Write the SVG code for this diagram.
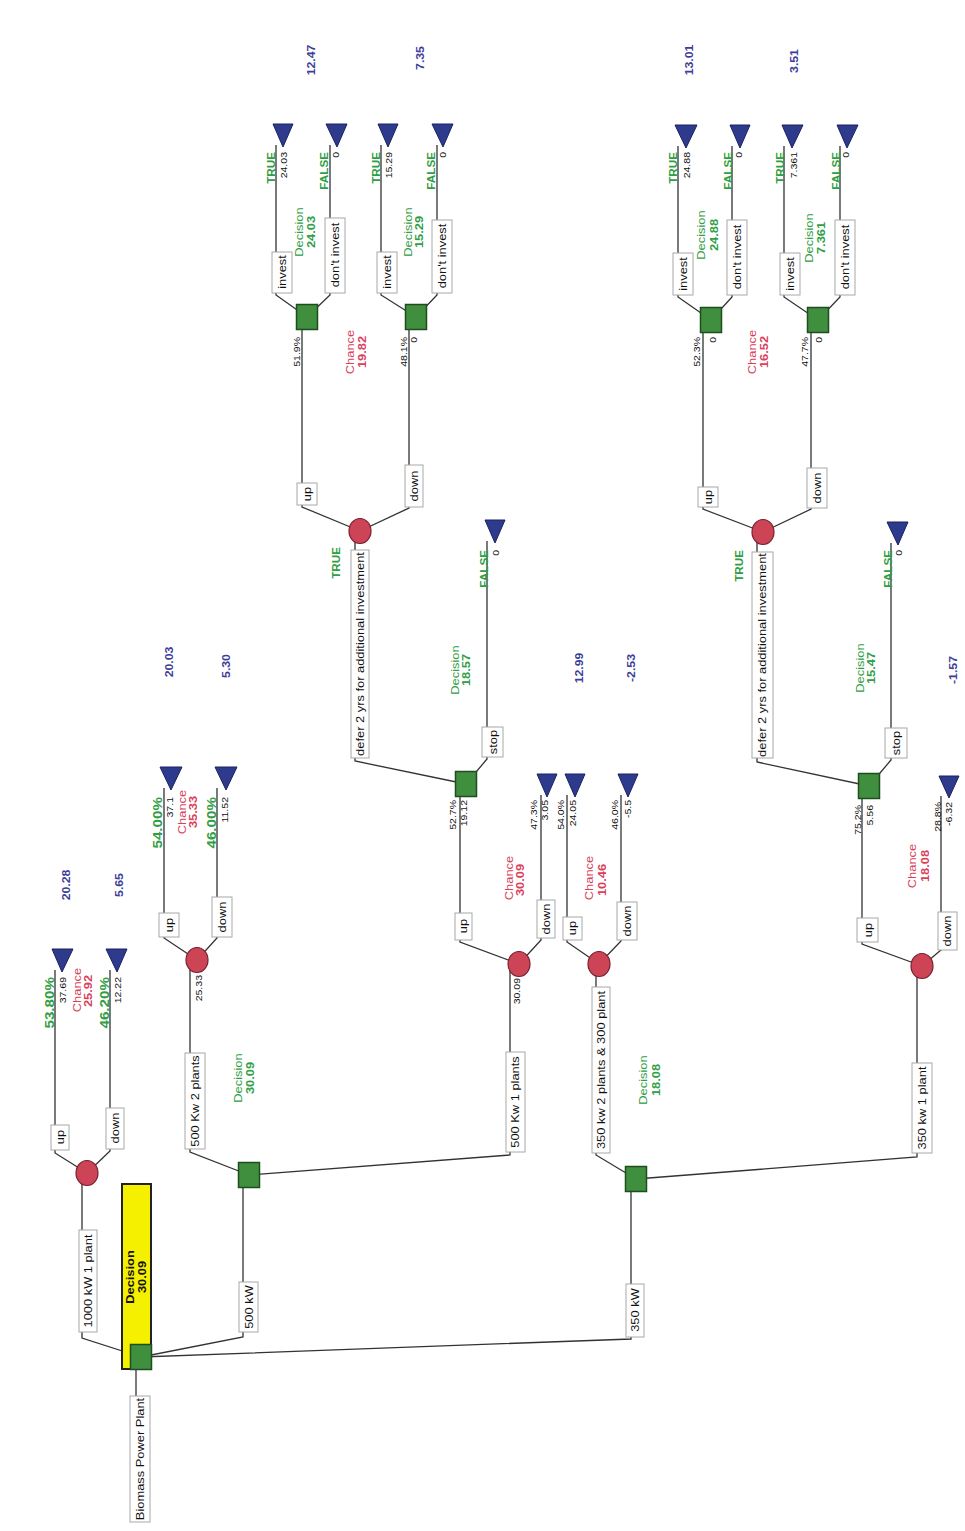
<svg xmlns="http://www.w3.org/2000/svg" width="965" height="1531" viewBox="0 0 965 1531">
<style>
  .ln{fill:none;stroke:#333;stroke-width:1.3}
  .bx{fill:#fff;stroke:#a8a8a8;stroke-width:1}
  .dn{fill:#3f8f3f;stroke:#1e4d1e;stroke-width:1.5}
  .cn{fill:#cc4455;stroke:#7a2030;stroke-width:1.2}
  .tn{fill:#2e3a8c;stroke:#1a2260;stroke-width:1}
  text{font-family:"Liberation Sans",Arial,sans-serif}
  .t{font-size:11px;fill:#111;text-anchor:middle}
  .v{font-size:9px;fill:#111;text-anchor:end}
  .p{font-size:13px;font-weight:bold;fill:#2f9e44;text-anchor:end}
  .tf{font-size:10px;font-weight:bold;fill:#2f9e44;text-anchor:end}
  .dl{font-size:11px;fill:#2f9e44;text-anchor:middle}
  .dv{font-size:11px;font-weight:bold;fill:#2f9e44;text-anchor:middle}
  .cl{font-size:11px;fill:#d9405a;text-anchor:middle}
  .cv{font-size:11px;font-weight:bold;fill:#d9405a;text-anchor:middle}
  .bv{font-size:10.5px;font-weight:bold;fill:#3d3d99;text-anchor:middle}
  .rl{font-size:11px;font-weight:bold;fill:#111;text-anchor:middle}
</style>
<rect width="965" height="1531" fill="#fff"/>

<!-- connectors -->
<g id="connectors" class="ln">
  <path d="M136,1369 L136,1396"/>
  <path d="M141,1357 L82,1338 L82,1173"/>
  <path d="M141,1357 L243,1337 L243,1175"/>
  <path d="M141,1357 L631,1339 L631,1179"/>
  <path d="M87,1173 L55,1153 L55,970"/>
  <path d="M87,1173 L110,1151 L110,970"/>
  <path d="M249,1175 L190,1152 L190,960"/>
  <path d="M249,1175 L510,1155 L510,964"/>
  <path d="M197,960 L164,938 L164,788"/>
  <path d="M197,960 L217,938 L217,788"/>
  <path d="M519,964 L460,942 L460,784"/>
  <path d="M519,964 L541,940 L541,795"/>
  <path d="M466,784 L355,761 L355,531"/>
  <path d="M466,784 L487,759 L487,541"/>
  <path d="M360,531 L302,507 L302,317"/>
  <path d="M360,531 L409,508 L409,317"/>
  <path d="M307,317 L276,295 L276,145"/>
  <path d="M307,317 L330,295 L330,145"/>
  <path d="M416,317 L381,295 L381,145"/>
  <path d="M416,317 L437,295 L437,145"/>
  <path d="M636,1179 L596,1155 L596,964"/>
  <path d="M636,1179 L917,1157 L917,966"/>
  <path d="M599,964 L567,942 L567,795"/>
  <path d="M599,964 L621,941 L621,795"/>
  <path d="M922,966 L862,944 L862,786"/>
  <path d="M922,966 L941,950 L941,796"/>
  <path d="M869,786 L757,762 L757,532"/>
  <path d="M869,786 L891,760 L891,543"/>
  <path d="M763,532 L703,509 L703,320"/>
  <path d="M763,532 L811,509 L811,320"/>
  <path d="M711,320 L678,297 L678,146"/>
  <path d="M711,320 L732,297 L732,146"/>
  <path d="M818,320 L784,297 L784,146"/>
  <path d="M818,320 L840,297 L840,146"/>
</g>

<!-- branch labels, probabilities and payoffs -->
<g id="branch-labels">
  <g class="bx">
    <rect x="130" y="1396" width="20" height="126"/>
    <rect x="79" y="1230" width="18" height="102"/>
    <rect x="239" y="1282" width="19" height="50"/>
    <rect x="626" y="1284" width="18" height="53"/>
    <rect x="51" y="1125" width="18" height="25"/>
    <rect x="106" y="1108" width="18" height="41"/>
    <rect x="185" y="1053" width="20" height="96"/>
    <rect x="506" y="1052" width="19" height="100"/>
    <rect x="159" y="913" width="20" height="24"/>
    <rect x="212" y="897" width="20" height="40"/>
    <rect x="455" y="913" width="17" height="27"/>
    <rect x="537" y="900" width="18" height="38"/>
    <rect x="351" y="550" width="18" height="208"/>
    <rect x="482" y="727" width="21" height="30"/>
    <rect x="297" y="483" width="20" height="22"/>
    <rect x="405" y="465" width="18" height="42"/>
    <rect x="272" y="252" width="20" height="41"/>
    <rect x="325" y="218" width="20" height="75"/>
    <rect x="377" y="252" width="20" height="41"/>
    <rect x="432" y="220" width="20" height="73"/>
    <rect x="592" y="987" width="18" height="166"/>
    <rect x="912" y="1063" width="20" height="90"/>
    <rect x="563" y="917" width="19" height="23"/>
    <rect x="617" y="902" width="20" height="38"/>
    <rect x="857" y="918" width="21" height="24"/>
    <rect x="938" y="912" width="19" height="38"/>
    <rect x="752" y="552" width="21" height="206"/>
    <rect x="885" y="728" width="22" height="30"/>
    <rect x="698" y="487" width="20" height="20"/>
    <rect x="807" y="468" width="20" height="40"/>
    <rect x="673" y="253" width="20" height="42"/>
    <rect x="727" y="220" width="20" height="75"/>
    <rect x="780" y="253" width="20" height="42"/>
    <rect x="835" y="220" width="20" height="75"/>
  </g>
  <text class="t" transform="matrix(0 -1.17 1 0 144 1459)">Biomass Power Plant</text>
  <text class="t" transform="matrix(0 -1.17 1 0 92 1281)">1000 kW 1 plant</text>
  <text class="t" transform="matrix(0 -1.17 1 0 253 1307)">500 kW</text>
  <text class="t" transform="matrix(0 -1.17 1 0 639 1310)">350 kW</text>
  <text class="t" transform="matrix(0 -1.17 1 0 64 1137)">up</text>
  <text class="t" transform="matrix(0 -1.17 1 0 119 1128)">down</text>
  <text class="t" transform="matrix(0 -1.17 1 0 199 1101)">500 Kw 2 plants</text>
  <text class="t" transform="matrix(0 -1.17 1 0 519 1102)">500 Kw 1 plants</text>
  <text class="t" transform="matrix(0 -1.17 1 0 173 925)">up</text>
  <text class="t" transform="matrix(0 -1.17 1 0 226 917)">down</text>
  <text class="t" transform="matrix(0 -1.17 1 0 467 926)">up</text>
  <text class="t" transform="matrix(0 -1.17 1 0 550 919)">down</text>
  <text class="t" transform="matrix(0 -1.17 1 0 364 654)">defer 2 yrs for additional investment</text>
  <text class="t" transform="matrix(0 -1.17 1 0 497 742)">stop</text>
  <text class="t" transform="matrix(0 -1.17 1 0 311 494)">up</text>
  <text class="t" transform="matrix(0 -1.17 1 0 418 486)">down</text>
  <text class="t" transform="matrix(0 -1.17 1 0 286 272)">invest</text>
  <text class="t" transform="matrix(0 -1.17 1 0 339 255)">don't invest</text>
  <text class="t" transform="matrix(0 -1.17 1 0 391 272)">invest</text>
  <text class="t" transform="matrix(0 -1.17 1 0 446 256)">don't invest</text>
  <text class="t" transform="matrix(0 -1.17 1 0 605 1070)">350 kw 2 plants &amp; 300 plant</text>
  <text class="t" transform="matrix(0 -1.17 1 0 926 1108)">350 kw 1 plant</text>
  <text class="t" transform="matrix(0 -1.17 1 0 576 928)">up</text>
  <text class="t" transform="matrix(0 -1.17 1 0 631 921)">down</text>
  <text class="t" transform="matrix(0 -1.17 1 0 872 930)">up</text>
  <text class="t" transform="matrix(0 -1.17 1 0 951 931)">down</text>
  <text class="t" transform="matrix(0 -1.17 1 0 766 655)">defer 2 yrs for additional investment</text>
  <text class="t" transform="matrix(0 -1.17 1 0 900 743)">stop</text>
  <text class="t" transform="matrix(0 -1.17 1 0 712 497)">up</text>
  <text class="t" transform="matrix(0 -1.17 1 0 821 488)">down</text>
  <text class="t" transform="matrix(0 -1.17 1 0 687 274)">invest</text>
  <text class="t" transform="matrix(0 -1.17 1 0 741 257)">don't invest</text>
  <text class="t" transform="matrix(0 -1.17 1 0 794 274)">invest</text>
  <text class="t" transform="matrix(0 -1.17 1 0 849 257)">don't invest</text>

  <!-- probabilities and payoffs -->
  <text class="p" transform="matrix(0 -1.17 1 0 54 977)">53.80%</text>
  <text class="v" transform="matrix(0 -1.17 1 0 66 977)">37.69</text>
  <text class="p" transform="matrix(0 -1.17 1 0 109 977)">46.20%</text>
  <text class="v" transform="matrix(0 -1.17 1 0 121 977)">12.22</text>
  <text class="v" transform="matrix(0 -1.17 1 0 202 975)">25.33</text>
  <text class="v" transform="matrix(0 -1.17 1 0 520 978)">30.09</text>
  <text class="p" transform="matrix(0 -1.17 1 0 162 797)">54.00%</text>
  <text class="v" transform="matrix(0 -1.17 1 0 173 797)">37.1</text>
  <text class="p" transform="matrix(0 -1.17 1 0 216 797)">46.00%</text>
  <text class="v" transform="matrix(0 -1.17 1 0 228 797)">11.52</text>
  <text class="v" transform="matrix(0 -1.17 1 0 456 800)">52.7%</text>
  <text class="v" transform="matrix(0 -1.17 1 0 467 800)">19.12</text>
  <text class="v" transform="matrix(0 -1.17 1 0 537 800)">47.3%</text>
  <text class="v" transform="matrix(0 -1.17 1 0 548 800)">3.05</text>
  <text class="tf" transform="matrix(0 -1.17 1 0 340 547)">TRUE</text>
  <text class="tf" transform="matrix(0 -1.17 1 0 488 550)">FALSE</text>
  <text class="v" transform="matrix(0 -1.17 1 0 499 550)">0</text>
  <text class="v" transform="matrix(0 -1.17 1 0 300 337)">51.9%</text>
  <text class="v" transform="matrix(0 -1.17 1 0 407 337)">48.1%</text>
  <text class="v" transform="matrix(0 -1.17 1 0 417 337)">0</text>
  <text class="tf" transform="matrix(0 -1.17 1 0 275 152)">TRUE</text>
  <text class="v" transform="matrix(0 -1.17 1 0 287 152)">24.03</text>
  <text class="tf" transform="matrix(0 -1.17 1 0 328 152)">FALSE</text>
  <text class="v" transform="matrix(0 -1.17 1 0 339 152)">0</text>
  <text class="tf" transform="matrix(0 -1.17 1 0 380 152)">TRUE</text>
  <text class="v" transform="matrix(0 -1.17 1 0 392 152)">15.29</text>
  <text class="tf" transform="matrix(0 -1.17 1 0 435 152)">FALSE</text>
  <text class="v" transform="matrix(0 -1.17 1 0 446 152)">0</text>
  <text class="v" transform="matrix(0 -1.17 1 0 564 800)">54.0%</text>
  <text class="v" transform="matrix(0 -1.17 1 0 576 800)">24.05</text>
  <text class="v" transform="matrix(0 -1.17 1 0 618 800)">46.0%</text>
  <text class="v" transform="matrix(0 -1.17 1 0 631 800)">-5.5</text>
  <text class="v" transform="matrix(0 -1.17 1 0 861 805)">75.2%</text>
  <text class="v" transform="matrix(0 -1.17 1 0 873 805)">5.56</text>
  <text class="v" transform="matrix(0 -1.17 1 0 941 802)">28.8%</text>
  <text class="v" transform="matrix(0 -1.17 1 0 952 802)">-6.32</text>
  <text class="tf" transform="matrix(0 -1.17 1 0 743 550)">TRUE</text>
  <text class="tf" transform="matrix(0 -1.17 1 0 892 550)">FALSE</text>
  <text class="v" transform="matrix(0 -1.17 1 0 902 550)">0</text>
  <text class="v" transform="matrix(0 -1.17 1 0 700 337)">52.3%</text>
  <text class="v" transform="matrix(0 -1.17 1 0 716 337)">0</text>
  <text class="v" transform="matrix(0 -1.17 1 0 808 337)">47.7%</text>
  <text class="v" transform="matrix(0 -1.17 1 0 822 337)">0</text>
  <text class="tf" transform="matrix(0 -1.17 1 0 677 152)">TRUE</text>
  <text class="v" transform="matrix(0 -1.17 1 0 690 152)">24.88</text>
  <text class="tf" transform="matrix(0 -1.17 1 0 732 152)">FALSE</text>
  <text class="v" transform="matrix(0 -1.17 1 0 742 152)">0</text>
  <text class="tf" transform="matrix(0 -1.17 1 0 784 152)">TRUE</text>
  <text class="v" transform="matrix(0 -1.17 1 0 797 152)">7.361</text>
  <text class="tf" transform="matrix(0 -1.17 1 0 840 152)">FALSE</text>
  <text class="v" transform="matrix(0 -1.17 1 0 849 152)">0</text>
</g>

<!-- path totals -->
<g id="path-values">
  <text class="bv" transform="matrix(0 -1.17 1 0 70 885)">20.28</text>
  <text class="bv" transform="matrix(0 -1.17 1 0 123 885)">5.65</text>
  <text class="bv" transform="matrix(0 -1.17 1 0 173 662)">20.03</text>
  <text class="bv" transform="matrix(0 -1.17 1 0 230 666)">5.30</text>
  <text class="bv" transform="matrix(0 -1.17 1 0 583 668)">12.99</text>
  <text class="bv" transform="matrix(0 -1.17 1 0 635 668)">-2.53</text>
  <text class="bv" transform="matrix(0 -1.17 1 0 315 60)">12.47</text>
  <text class="bv" transform="matrix(0 -1.17 1 0 424 58)">7.35</text>
  <text class="bv" transform="matrix(0 -1.17 1 0 693 60)">13.01</text>
  <text class="bv" transform="matrix(0 -1.17 1 0 798 61)">3.51</text>
  <text class="bv" transform="matrix(0 -1.17 1 0 957 670)">-1.57</text>
</g>

<!-- root decision -->
<g id="root">
  <rect x="122" y="1184" width="29" height="185" fill="#f5ef00" stroke="#222" stroke-width="2"/>
  <text class="rl" transform="matrix(0 -1.17 1 0 134 1277)">Decision</text>
  <text class="rl" transform="matrix(0 -1.17 1 0 146 1277)">30.09</text>
  <rect class="dn" x="130.5" y="1344.5" width="21" height="25"/>
</g>

<!-- 1000 kW chance -->
<g id="chance-1000kw">
  <ellipse class="cn" cx="87" cy="1173" rx="11" ry="12.5"/>
  <text class="cl" transform="matrix(0 -1.17 1 0 81 990)">Chance</text>
  <text class="cv" transform="matrix(0 -1.17 1 0 92 991)">25.92</text>
</g>
<g id="end-1000-up"><polygon class="tn" points="52,949 73,949 62,972"/></g>
<g id="end-1000-down"><polygon class="tn" points="106,949 127,949 117,972"/></g>

<!-- 500 kW decision -->
<g id="decision-500kw">
  <rect class="dn" x="238.5" y="1162.5" width="21" height="25"/>
  <text class="dl" transform="matrix(0 -1.17 1 0 242 1078)">Decision</text>
  <text class="dv" transform="matrix(0 -1.17 1 0 254 1078)">30.09</text>
</g>
<g id="chance-500-2">
  <ellipse class="cn" cx="197" cy="960" rx="11" ry="12.5"/>
  <text class="cl" transform="matrix(0 -1.17 1 0 186 812)">Chance</text>
  <text class="cv" transform="matrix(0 -1.17 1 0 197 812)">35.33</text>
</g>
<g id="end-500-2-up"><polygon class="tn" points="160,767 182,767 171,790"/></g>
<g id="end-500-2-down"><polygon class="tn" points="215,767 237,767 226,790"/></g>
<g id="chance-500-1">
  <ellipse class="cn" cx="519" cy="964" rx="11" ry="12.5"/>
  <text class="cl" transform="matrix(0 -1.17 1 0 513 878)">Chance</text>
  <text class="cv" transform="matrix(0 -1.17 1 0 524 880)">30.09</text>
</g>
<g id="end-500-1-down"><polygon class="tn" points="537,774 557,774 547,797"/></g>
<g id="decision-500-defer">
  <rect class="dn" x="455.5" y="771.5" width="21" height="25"/>
  <text class="dl" transform="matrix(0 -1.17 1 0 459 670)">Decision</text>
  <text class="dv" transform="matrix(0 -1.17 1 0 470 670)">18.57</text>
</g>
<g id="end-500-stop"><polygon class="tn" points="485,520 505,520 495,543"/></g>
<g id="chance-500-defer">
  <ellipse class="cn" cx="360" cy="531" rx="11" ry="12.5"/>
  <text class="cl" transform="matrix(0 -1.17 1 0 354 352)">Chance</text>
  <text class="cv" transform="matrix(0 -1.17 1 0 366 352)">19.82</text>
</g>
<g id="decision-500-up">
  <rect class="dn" x="296.5" y="304.5" width="21" height="25"/>
  <text class="dl" transform="matrix(0 -1.17 1 0 303 232)">Decision</text>
  <text class="dv" transform="matrix(0 -1.17 1 0 315 232)">24.03</text>
</g>
<g id="end-500-up-invest"><polygon class="tn" points="273,124 293,124 283,147"/></g>
<g id="end-500-up-dont"><polygon class="tn" points="326,124 347,124 337,147"/></g>
<g id="decision-500-down">
  <rect class="dn" x="405.5" y="304.5" width="21" height="25"/>
  <text class="dl" transform="matrix(0 -1.17 1 0 412 232)">Decision</text>
  <text class="dv" transform="matrix(0 -1.17 1 0 423 232)">15.29</text>
</g>
<g id="end-500-down-invest"><polygon class="tn" points="378,124 398,124 388,147"/></g>
<g id="end-500-down-dont"><polygon class="tn" points="432,124 453,124 443,147"/></g>

<!-- 350 kW decision -->
<g id="decision-350kw">
  <rect class="dn" x="625.5" y="1166.5" width="21" height="25"/>
  <text class="dl" transform="matrix(0 -1.17 1 0 647 1080)">Decision</text>
  <text class="dv" transform="matrix(0 -1.17 1 0 660 1080)">18.08</text>
</g>
<g id="chance-350-2">
  <ellipse class="cn" cx="599" cy="964" rx="11" ry="12.5"/>
  <text class="cl" transform="matrix(0 -1.17 1 0 593 878)">Chance</text>
  <text class="cv" transform="matrix(0 -1.17 1 0 606 880)">10.46</text>
</g>
<g id="end-350-2-up"><polygon class="tn" points="565,774 585,774 575,797"/></g>
<g id="end-350-2-down"><polygon class="tn" points="618,774 638,774 628,797"/></g>
<g id="chance-350-1">
  <ellipse class="cn" cx="922" cy="966" rx="11" ry="12.5"/>
  <text class="cl" transform="matrix(0 -1.17 1 0 916 866)">Chance</text>
  <text class="cv" transform="matrix(0 -1.17 1 0 929 866)">18.08</text>
</g>
<g id="end-350-1-down"><polygon class="tn" points="939,776 959,776 949,798"/></g>
<g id="decision-350-defer">
  <rect class="dn" x="858.5" y="773.5" width="21" height="25"/>
  <text class="dl" transform="matrix(0 -1.17 1 0 864 668)">Decision</text>
  <text class="dv" transform="matrix(0 -1.17 1 0 875 668)">15.47</text>
</g>
<g id="end-350-stop"><polygon class="tn" points="887,522 908,522 898,545"/></g>
<g id="chance-350-defer">
  <ellipse class="cn" cx="763" cy="532" rx="11" ry="12.5"/>
  <text class="cl" transform="matrix(0 -1.17 1 0 756 352)">Chance</text>
  <text class="cv" transform="matrix(0 -1.17 1 0 768 352)">16.52</text>
</g>
<g id="decision-350-up">
  <rect class="dn" x="700.5" y="307.5" width="21" height="25"/>
  <text class="dl" transform="matrix(0 -1.17 1 0 705 235)">Decision</text>
  <text class="dv" transform="matrix(0 -1.17 1 0 718 235)">24.88</text>
</g>
<g id="end-350-up-invest"><polygon class="tn" points="675,125 697,125 686,148"/></g>
<g id="end-350-up-dont"><polygon class="tn" points="730,125 750,125 740,148"/></g>
<g id="decision-350-down">
  <rect class="dn" x="807.5" y="307.5" width="21" height="25"/>
  <text class="dl" transform="matrix(0 -1.17 1 0 813 238)">Decision</text>
  <text class="dv" transform="matrix(0 -1.17 1 0 825 238)">7.361</text>
</g>
<g id="end-350-down-invest"><polygon class="tn" points="782,125 803,125 792,148"/></g>
<g id="end-350-down-dont"><polygon class="tn" points="837,125 858,125 847,148"/></g>
</svg>
